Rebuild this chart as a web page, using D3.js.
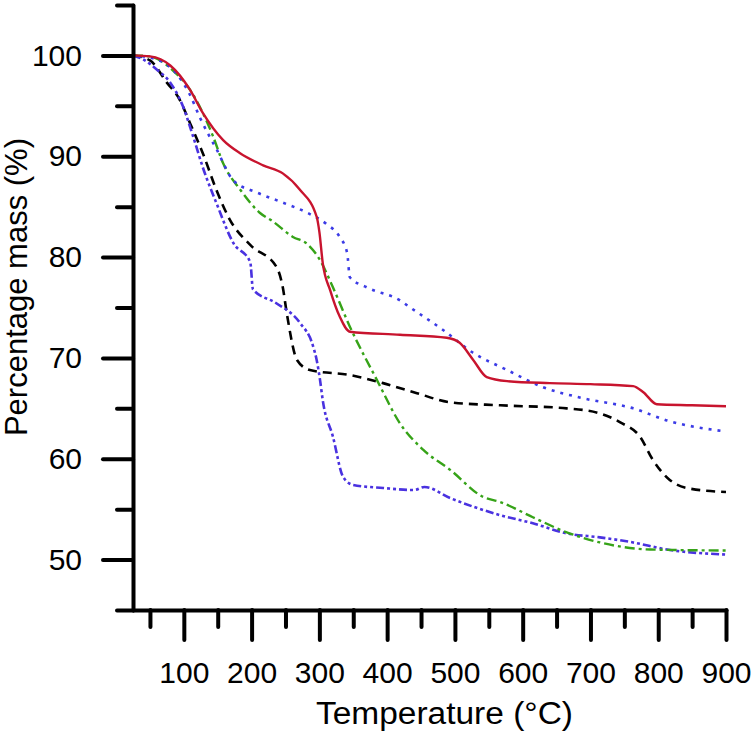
<!DOCTYPE html>
<html>
<head>
<meta charset="utf-8">
<script src="https://cdn.jsdelivr.net/npm/d3@7"></script>
<style>
  html, body { margin: 0; padding: 0; background: #fff; }
  svg { display: block; }
  text { font-family: Arial, "Liberation Sans", sans-serif; fill: #000; }
</style>
</head>
<body>
<svg id="chart" width="756" height="736"></svg>
<script>
// ---- data (temperature in °C, percentage mass in %) ----
const redT   = [25,50,80,109,128,158,183,217,246,271,296,300,305,316,330,345,419,488,507,527,547,577,640,700,763,778,798,850,900];
const redM   = [100,99.9,99.0,96.6,94.3,91.6,90.3,89.1,88.3,86.7,84.0,82.5,79.4,76.7,74.1,72.6,72.3,72.0,71.5,69.8,68.1,67.7,67.5,67.4,67.2,66.6,65.4,65.3,65.2];

const blueDotT = [25,60,85,109,124,149,173,208,246,282,310,330,341,345,370,419,434,482,527,577,630,689,763,813,900];
const blueDotM = [100,99.6,98.5,96.1,93.8,90.6,87.6,86.4,85.4,84.4,83.3,82.0,80.4,78.0,77.0,75.7,75.0,72.8,70.5,68.8,67.1,66.0,65.0,63.8,62.7];

const greenT = [25,50,84,109,128,143,158,183,212,230,261,282,301,320,345,385,419,453,493,542,567,615,665,714,788,900];
const greenM = [100,99.9,98.5,96.6,94.3,92.0,89.3,86.7,84.4,83.6,82.0,81.3,79.7,77.0,73.1,67.8,63.5,60.9,58.9,56.2,55.7,54.2,52.7,51.7,51.0,50.9];

const blackT = [25,50,75,94,109,128,149,168,198,237,246,252,267,286,345,394,444,493,567,665,714,744,773,792,817,842,900];
const blackM = [100,99.5,97.3,95.6,93.3,90.3,86.5,83.7,81.2,79.0,77.0,74.4,69.8,68.8,68.3,67.5,66.5,65.6,65.3,65.0,64.5,63.6,62.2,59.9,57.9,57.1,56.7];

const violetT = [25,40,60,80,99,114,128,149,173,198,202,237,271,291,296,301,305,320,335,350,394,440,455,493,567,615,665,714,763,813,900];
const violetM = [100,99.6,98.6,97.3,94.9,91.9,88.9,85.2,81.4,79.5,76.8,75.4,73.5,71.1,69.8,67.8,65.8,62.2,58.2,57.4,57.1,56.9,57.2,56.1,54.4,53.6,52.6,52.2,51.7,51.0,50.5];

const xMajorTicks = [100,200,300,400,500,600,700,800,900];
const xMinorTicks = [50,150,250,350,450,550,650,750,850];
const yMajorTicks = [50,60,70,80,90,100];
const yMinorTicks = [45,55,65,75,85,95,105];

const series = [
  {T: blackT,   M: blackM,   color: "#000000", width: 2.6, dash: "9,6"},
  {T: violetT,  M: violetM,  color: "#4a32e0", width: 2.6, dash: "8,3,3,3,3,3"},
  {T: greenT,   M: greenM,   color: "#36a318", width: 2.4, dash: "10,4,3,4"},
  {T: blueDotT, M: blueDotM, color: "#3b3be6", width: 2.6, dash: "3,6"},
  {T: redT,     M: redM,     color: "#c8142e", width: 2.4, dash: null}
];

// ---- layout ----
const svg = d3.select("#chart");
const x = d3.scaleLinear().domain([25, 900]).range([133, 726]);
const y = d3.scaleLinear().domain([45, 105]).range([610, 5]);

const line = d3.line()
  .x(d => x(d[0]))
  .y(d => y(d[1]))
  .curve(d3.curveMonotoneX);

const plot = svg.append("g");
series.forEach(s => {
  const pts = s.T.map((t, i) => [t, s.M[i]]);
  plot.append("path")
    .datum(pts)
    .attr("d", line)
    .attr("fill", "none")
    .attr("stroke", s.color)
    .attr("stroke-width", s.width)
    .attr("stroke-dasharray", s.dash)
    .attr("stroke-linejoin", "round");
});

// ---- axes ----
function styleAxis(g) {
  g.selectAll("path, line")
    .attr("stroke", "#000")
    .attr("stroke-width", 4)
    .attr("stroke-linecap", "round");
  g.selectAll("text").style("font-size", "30px").attr("fill", "#000");
}

// y axis minor
svg.append("g")
  .attr("transform", `translate(${x(25)},0)`)
  .call(d3.axisLeft(y).tickValues(yMinorTicks).tickSize(16).tickSizeOuter(0).tickFormat(""))
  .call(styleAxis)
  .call(g => g.select(".domain").remove());
// y axis major
svg.append("g")
  .attr("transform", `translate(${x(25)},0)`)
  .call(d3.axisLeft(y).tickValues(yMajorTicks).tickSize(30).tickSizeOuter(0).tickPadding(21).tickFormat(d3.format("d")))
  .call(styleAxis);

// x axis minor
svg.append("g")
  .attr("transform", `translate(0,${y(45)})`)
  .call(d3.axisBottom(x).tickValues(xMinorTicks).tickSize(17).tickSizeOuter(0).tickFormat(""))
  .call(styleAxis)
  .call(g => g.select(".domain").remove());
// x axis major
svg.append("g")
  .attr("transform", `translate(0,${y(45)})`)
  .call(d3.axisBottom(x).tickValues(xMajorTicks).tickSize(30).tickSizeOuter(0).tickPadding(22).tickFormat(d3.format("d")))
  .call(styleAxis);

// ---- titles ----
svg.append("text")
  .attr("x", 316)
  .attr("y", 724)
  .attr("text-anchor", "start")
  .attr("textLength", 257)
  .attr("lengthAdjust", "spacingAndGlyphs")
  .style("font-size", "31px")
  .text("Temperature (°C)");

svg.append("text")
  .attr("transform", "translate(27,138) rotate(-90)")
  .attr("text-anchor", "end")
  .style("font-size", "31px")
  .text("Percentage mass (%)");
</script>
</body>
</html>
